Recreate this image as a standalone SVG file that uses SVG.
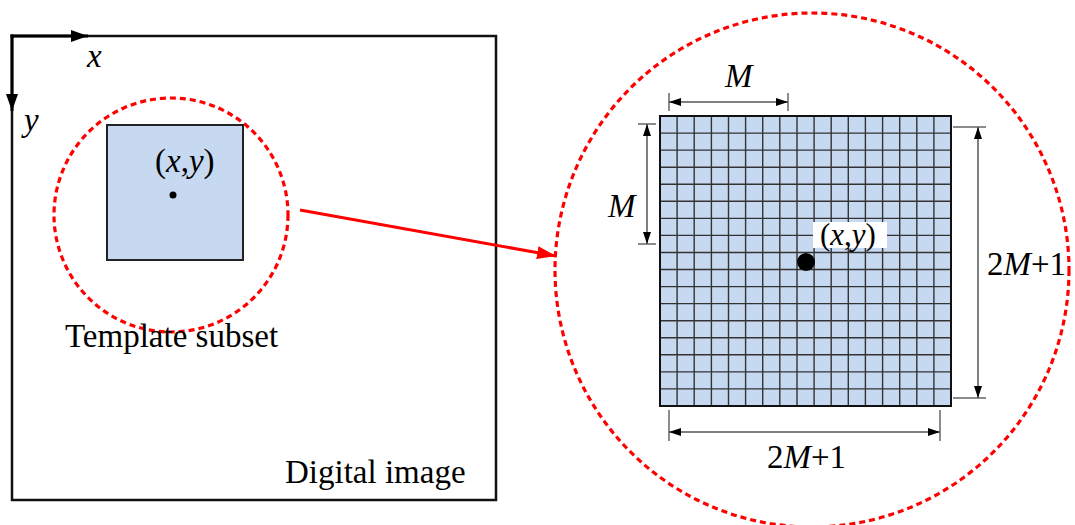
<svg xmlns="http://www.w3.org/2000/svg" width="1075" height="525" viewBox="0 0 1075 525" font-family="'Liberation Serif', 'Times New Roman', 'DejaVu Serif', serif">
<style>
text{font-family:'Liberation Serif','Times New Roman','DejaVu Serif',serif;font-size:33px;fill:#000}
.it{font-style:italic}
.dash{fill:none;stroke:#ff0000;stroke-width:3.2;stroke-dasharray:6 4}
.dim{stroke:#555;stroke-width:1.5;fill:none}
.tick{stroke:#666;stroke-width:1.5}
</style>
<defs>
<marker id="ah" viewBox="0 0 12 8" refX="12" refY="4" markerWidth="12" markerHeight="8" markerUnits="userSpaceOnUse" orient="auto-start-reverse"><path d="M0,0 L12,4 L0,8 Z" fill="#000"/></marker>
<marker id="axh" viewBox="0 0 17 12" refX="17" refY="6" markerWidth="17" markerHeight="12" markerUnits="userSpaceOnUse" orient="auto"><path d="M0,0 L17,6 L0,12 Z" fill="#000"/></marker>
<marker id="rh" viewBox="0 0 19 13" refX="19" refY="6.5" markerWidth="19" markerHeight="13" markerUnits="userSpaceOnUse" orient="auto"><path d="M0,0 L19,6.5 L0,13 Z" fill="#ff0000"/></marker>
</defs>
<g id="digital-image">
<rect x="12" y="36" width="484" height="464" fill="none" stroke="#111" stroke-width="2.5"/>
<text x="285" y="483">Digital image</text>
</g>
<g id="axes">
<line x1="10.5" y1="36" x2="88" y2="36" stroke="#000" stroke-width="3" marker-end="url(#axh)"/>
<line x1="12" y1="34.5" x2="12" y2="111" stroke="#000" stroke-width="3" marker-end="url(#axh)"/>
<text class="it" x="87" y="67">x</text>
<text class="it" x="24" y="131">y</text>
</g>
<g id="template-subset">
<circle class="dash" cx="171" cy="215" r="117"/>
<rect x="107" y="125" width="136" height="135" fill="#c6d9f1" stroke="#222" stroke-width="2"/>
<circle cx="173" cy="195" r="3.5" fill="#000"/>
<text x="155" y="172">(<tspan class="it">x</tspan>,<tspan class="it">y</tspan>)</text>
<text x="65" y="347">Template subset</text>
</g>
<g id="connectors">
<line x1="300" y1="210" x2="556" y2="256" stroke="#ff0000" stroke-width="3" marker-end="url(#rh)"/>
</g>
<g id="zoomed-subset">
<circle class="dash" cx="812" cy="270" r="257"/>
<rect x="660" y="116" width="291" height="290" fill="#c6d9f1"/>
<path d="M677.1,116V406M694.2,116V406M711.4,116V406M728.5,116V406M745.6,116V406M762.7,116V406M779.8,116V406M797,116V406M814.1,116V406M831.2,116V406M848.3,116V406M865.4,116V406M882.6,116V406M899.7,116V406M916.8,116V406M933.9,116V406M660,133.1H951M660,150.1H951M660,167.2H951M660,184.2H951M660,201.3H951M660,218.4H951M660,235.4H951M660,252.5H951M660,269.5H951M660,286.6H951M660,303.6H951M660,320.7H951M660,337.8H951M660,354.8H951M660,371.9H951M660,388.9H951" stroke="#333" stroke-width="1.4" fill="none"/>
<rect x="660" y="116" width="291" height="290" fill="none" stroke="#111" stroke-width="2"/>
<circle cx="806" cy="262" r="9" fill="#000"/>
<rect x="813" y="222" width="74" height="26" fill="#fff"/>
<text x="820" y="245" style="font-size:31px">(<tspan class="it">x</tspan>,<tspan class="it">y</tspan>)</text>
</g>
<g id="dimensions">
<line class="tick" x1="669" y1="93" x2="669" y2="111"/>
<line class="tick" x1="788" y1="93" x2="788" y2="111"/>
<line class="dim" x1="669" y1="102" x2="788" y2="102" marker-start="url(#ah)" marker-end="url(#ah)"/>
<text class="it" x="725" y="87">M</text>
<line class="tick" x1="638" y1="124" x2="656" y2="124"/>
<line class="tick" x1="638" y1="244" x2="656" y2="244"/>
<line class="dim" x1="647" y1="124" x2="647" y2="244" marker-start="url(#ah)" marker-end="url(#ah)"/>
<text class="it" x="608" y="217">M</text>
<line class="tick" x1="953" y1="127" x2="986" y2="127"/>
<line class="tick" x1="953" y1="398" x2="986" y2="398"/>
<line class="dim" x1="978" y1="127" x2="978" y2="398" marker-start="url(#ah)" marker-end="url(#ah)"/>
<text x="987" y="275">2<tspan class="it">M</tspan>+1</text>
<line class="tick" x1="669" y1="410" x2="669" y2="441"/>
<line class="tick" x1="940" y1="410" x2="940" y2="441"/>
<line class="dim" x1="669" y1="432" x2="940" y2="432" marker-start="url(#ah)" marker-end="url(#ah)"/>
<text x="767" y="468">2<tspan class="it">M</tspan>+1</text>
</g>
</svg>
